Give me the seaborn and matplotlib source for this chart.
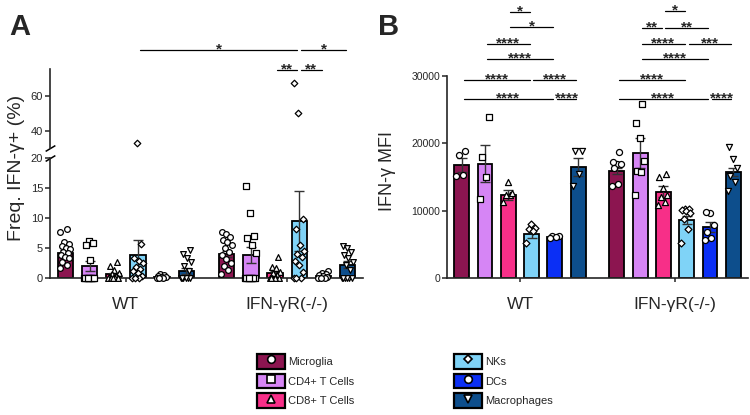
import numpy as np
import pandas as pd
import seaborn as sns
import matplotlib
matplotlib.use("Agg")
import matplotlib.pyplot as plt
from matplotlib.patches import Patch
from matplotlib.lines import Line2D

# --- DATA ---

groups = ["WT", "IFN-γR(-/-)"]
cells = ["Microglia", "CD4+ T Cells", "CD8+ T Cells", "NKs", "DCs", "Macrophages"]
colors = ["#8c1550", "#d685f5", "#f72f88", "#7fd3f7", "#0b2ff5", "#0d4e8c"]
markers = ["o", "s", "^", "D", "o", "v"]

# panel A: Freq. IFN-g+ (%)
freq_mean_wt = [4.2, 2.0, 0.6, 3.8, 0.2, 1.2]
freq_mean_ko = [4.0, 3.8, 0.9, 9.5, 0.3, 2.2]
freq_sem_wt = [0.5, 0.8, 0.25, 2.5, 0.05, 0.5]
freq_sem_ko = [0.55, 1.3, 0.35, 5.0, 0.1, 0.6]
freq_pts_wt = [
    [8.1, 7.6, 6.0, 5.6, 5.4, 5.0, 4.9, 4.4, 4.2, 3.8, 3.5, 3.3, 2.7, 2.2, 1.6],
    [6.2, 5.8, 5.5, 3.0, 0, 0, 0, 0, 0, 0, 0, 0, 0],
    [2.6, 2.0, 1.3, 0.9, 0.6, 0.4, 0.2, 0, 0, 0, 0, 0],
    [33, 5.6, 3.4, 2.8, 2.5, 1.9, 1.5, 1.2, 0.8, 0.3, 0, 0, 0],
    [0.6, 0.5, 0.3, 0.2, 0.1, 0, 0, 0],
    [4.6, 4.0, 3.3, 2.7, 2.0, 1.2, 0, 0, 0, 0, 0, 0],
]
freq_pts_ko = [
    [7.7, 7.3, 6.8, 6.4, 6.0, 5.5, 5.0, 4.4, 3.9, 3.1, 2.5, 2.0, 1.4, 0.6],
    [15.3, 10.9, 7.0, 6.6, 5.5, 4.2, 0, 0, 0, 0, 0, 0, 0, 0],
    [3.5, 1.9, 1.6, 1.0, 0.8, 0.5, 0, 0, 0, 0, 0, 0],
    [67, 50, 9.9, 8.2, 5.5, 4.5, 4.0, 3.5, 2.8, 2.1, 1.0, 0, 0, 0],
    [1.2, 0.9, 0.7, 0.5, 0.3, 0.1, 0, 0, 0],
    [5.4, 5.0, 4.4, 3.8, 3.3, 2.7, 2.1, 1.3, 0, 0, 0, 0, 0, 0],
]

# panel B: IFN-g MFI
mfi_mean_wt = [16800, 17000, 12300, 6600, 6050, 16500]
mfi_mean_ko = [15900, 18600, 12800, 8600, 7600, 15800]
mfi_sem_wt = [1000, 2700, 750, 700, 150, 1300]
mfi_sem_ko = [500, 2200, 800, 600, 700, 600]
mfi_pts_wt = [
    [18300, 18900, 15200, 15300],
    [23900, 17900, 15000, 11700],
    [14300, 12400, 12600, 12400, 11300],
    [7300, 7400, 8000, 7000, 5200],
    [6300, 6200, 6100, 6000],
    [18800, 18900, 15500, 13600],
]
mfi_pts_ko = [
    [18700, 17000, 17300, 16900, 16300, 13900, 13600],
    [25800, 23000, 20800, 17400, 15900, 15700, 12400],
    [15500, 15000, 13400, 12300, 12000, 11300, 10800],
    [10300, 10200, 10100, 10000, 9600, 8700, 7300, 5200],
    [9600, 9800, 7800, 6900, 6000, 5600],
    [19400, 17700, 16300, 15200, 14200, 12900],
]

# significance: (bar i, bar j, label, height) - bars numbered 0-11 left to right
freq_sig = [(3, 9, "*", 86.3), (9, 11, "*", 86.3), (8, 9, "**", 74.5), (9, 10, "**", 74.5)]
mfi_sig = [
    (2, 3, "*", 39450), (2, 4, "*", 37300), (1, 3, "****", 34800), (1, 4, "****", 32500),
    (0, 3, "****", 29400), (3, 5, "****", 29400), (0, 4, "****", 26550), (4, 5, "****", 26550),
    (8, 9, "*", 39650), (7, 8, "**", 37200), (8, 10, "**", 37200), (7, 9, "****", 34800),
    (9, 11, "***", 34800), (7, 10, "****", 32500), (6, 9, "****", 29400),
    (6, 10, "****", 26550), (10, 11, "****", 26550),
]


# --- HELPERS ---

def bar_frame(wt, ko):
    return pd.DataFrame({"group": np.repeat(groups, len(cells)),
                         "cell": cells * 2,
                         "value": wt + ko})


def draw_bars(ax, df):
    sns.barplot(data=df, x="group", y="value", hue="cell", order=groups,
                hue_order=cells, palette=colors, saturation=1, width=0.9,
                gap=0.36, edgecolor="black", linewidth=1.3, errorbar=None,
                legend=False, ax=ax, zorder=2)
    return sorted(p.get_x() + p.get_width() / 2 for p in ax.patches)


def jitter(vals, spread=0.034):
    # deterministic spread so neighbouring values land apart
    order = np.argsort(vals, kind="stable")
    offs = np.empty(len(vals))
    offs[order] = ((np.arange(len(vals)) * 0.618034) % 1 - 0.5) * 2 * spread
    return offs


def draw_points(ax, centers, pts, size, keep):
    for k, vals in enumerate(pts):
        vals = np.asarray(vals, float)
        x = centers[k] + jitter(vals)
        m = keep(vals)
        mk = markers[k % 6]
        s = size * (0.65 if mk == "D" else 1.0)
        ax.scatter(x[m], vals[m], marker=mk, s=s, facecolor="white",
                   edgecolor="black", linewidth=0.9, zorder=4, clip_on=False)


def draw_err(ax, centers, means, sems):
    ax.errorbar(centers, means, yerr=sems, fmt="none", ecolor="#333333",
                elinewidth=1, capsize=3.5, capthick=1, zorder=3)


def draw_sig(ax, centers, sig, fs=11):
    for i, j, lab, y in sig:
        x0, x1 = centers[i] + 0.012, centers[j] - 0.012
        ax.plot([x0, x1], [y, y], color="black", lw=0.9, clip_on=False)
        ax.annotate(lab, ((x0 + x1) / 2, y), xytext=(0, -2.5),
                    textcoords="offset points", ha="center", va="baseline",
                    fontsize=fs, fontweight="bold", annotation_clip=False)


def style_axis(ax, labelsize):
    for side in ["top", "right"]:
        ax.spines[side].set_visible(False)
    for side in ["left", "bottom"]:
        ax.spines[side].set_linewidth(1.2)
    ax.tick_params(axis="y", length=3.5, width=1.1, labelsize=labelsize, pad=1.5)
    ax.set_xlabel("")
    ax.set_ylabel("")


# --- FIGURE ---

sns.set_style("ticks")
plt.rcParams["font.family"] = ["Liberation Sans", "DejaVu Sans"]

fig = plt.figure(figsize=(7.5, 4.15), dpi=100)
W, H = 750, 415


def px_axes(x0, y0, x1, y1):
    return fig.add_axes([x0 / W, 1 - y1 / H, (x1 - x0) / W, (y1 - y0) / H])


xlim = (-0.47, 1.47)

# panel A (broken y axis)
ax_lo = px_axes(50, 158, 363, 278)
ax_hi = px_axes(50, 69.3, 363, 148)

cen_a = draw_bars(ax_lo, bar_frame(freq_mean_wt, freq_mean_ko))
draw_err(ax_lo, cen_a, freq_mean_wt + freq_mean_ko, freq_sem_wt + freq_sem_ko)
draw_points(ax_lo, cen_a, freq_pts_wt + freq_pts_ko, 17, lambda v: v <= 20)
draw_points(ax_hi, cen_a, freq_pts_wt + freq_pts_ko, 17, lambda v: v > 20)

ax_lo.set_ylim(0, 20)
ax_lo.set_yticks([0, 5, 10, 15, 20])
ax_lo.set_xlim(*xlim)
ax_hi.set_ylim(30, 75.1)
ax_hi.set_yticks([40, 60])
ax_hi.set_xlim(*xlim)
ax_hi.set_xticks([])
style_axis(ax_lo, 8)
style_axis(ax_hi, 8)
ax_hi.spines["bottom"].set_visible(False)
ax_lo.tick_params(axis="x", length=3, width=1.1, labelsize=12.5, pad=11)
draw_sig(ax_hi, cen_a, freq_sig)

# break marks on the y axis
brk = dict(marker=[(-1, -0.6), (1, 0.6)], markersize=7, linestyle="none",
           color="black", mec="black", mew=1.1, clip_on=False)
ax_hi.plot([0], [0], transform=ax_hi.transAxes, **brk)
ax_lo.plot([0], [1], transform=ax_lo.transAxes, **brk)

# panel B
ax_b = px_axes(447, 76, 748, 278)
cen_b = draw_bars(ax_b, bar_frame(mfi_mean_wt, mfi_mean_ko))
draw_err(ax_b, cen_b, mfi_mean_wt + mfi_mean_ko, mfi_sem_wt + mfi_sem_ko)
draw_points(ax_b, cen_b, mfi_pts_wt + mfi_pts_ko, 19, lambda v: v >= 0)
ax_b.set_ylim(0, 30000)
ax_b.set_yticks([0, 10000, 20000, 30000])
ax_b.set_xlim(*xlim)
style_axis(ax_b, 7.5)
ax_b.tick_params(axis="x", length=3, width=1.1, labelsize=12.5, pad=11)
draw_sig(ax_b, cen_b, mfi_sig)

# axis titles and panel letters
fig.text(17 / W, 1 - 168 / H, "Freq. IFN-γ+ (%)", rotation=90, ha="center",
         va="center", fontsize=14)
fig.text(388 / W, 1 - 171 / H, "IFN-γ MFI", rotation=90, ha="center",
         va="center", fontsize=13)
fig.text(9 / W, 1 - 35 / H, "A", fontsize=21, fontweight="bold", va="baseline")
fig.text(378 / W, 1 - 35 / H, "B", fontsize=21, fontweight="bold", va="baseline")

# legend
handles = [(Patch(facecolor=c, edgecolor="black", linewidth=1.6),
            Line2D([], [], ls="", marker=m, markersize=5.5 if m != "D" else 4.5,
                   mfc="white", mec="black", mew=1.2))
           for c, m in zip(colors, markers)]
fig.legend(handles, cells, ncol=2, loc="upper left",
           bbox_to_anchor=(257 / W, 1 - 354 / H), frameon=False, fontsize=8,
           handlelength=2.5, handleheight=1.65, handletextpad=0.3,
           labelspacing=0.45, columnspacing=9.0, borderpad=0, borderaxespad=0)

fig.savefig("out.png", dpi=100)
